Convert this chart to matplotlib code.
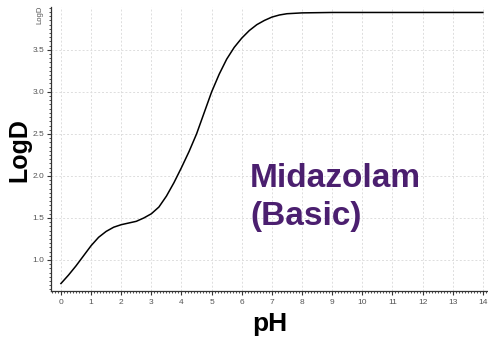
import matplotlib
matplotlib.use("Agg")
import matplotlib.pyplot as plt
from matplotlib.ticker import MultipleLocator

ph = [0.0, 0.25, 0.5, 0.75, 1.0, 1.25, 1.5, 1.75, 2.0, 2.25, 2.5, 2.75, 3.0, 3.25,
      3.5, 3.75, 4.0, 4.25, 4.5, 4.75, 5.0, 5.25, 5.5, 5.75, 6.0, 6.25, 6.5, 6.75,
      7.0, 7.25, 7.5, 8.0, 9.0, 10.0, 11.0, 12.0, 13.0, 14.0]
logd = [0.72, 0.82, 0.93, 1.05, 1.17, 1.27, 1.34, 1.39, 1.42, 1.44, 1.46, 1.50, 1.55, 1.63,
        1.76, 1.92, 2.10, 2.29, 2.50, 2.75, 3.00, 3.21, 3.39, 3.53, 3.64, 3.73, 3.80, 3.85,
        3.89, 3.915, 3.93, 3.94, 3.945, 3.945, 3.945, 3.945, 3.945, 3.945]
x_ticks = list(range(0, 15))
y_ticks = [1.0, 1.5, 2.0, 2.5, 3.0, 3.5]

plt.rcParams['font.family'] = ['Liberation Sans', 'DejaVu Sans']
fig = plt.figure(figsize=(4.89, 3.37), dpi=100)
ax = fig.add_axes([51/489, 46/337, 437/489, 284/337])
ax.plot(ph, logd, color='black', lw=1.1, solid_joinstyle='round')
ax.set_xlim(-0.33, 14.17)
ax.set_ylim(0.631, 4.01)
ax.set_xticks(x_ticks)
ax.set_yticks(y_ticks)
ax.set_yticklabels([f"{v:.1f}" for v in y_ticks])
ax.xaxis.set_minor_locator(MultipleLocator(0.1))
ax.yaxis.set_minor_locator(MultipleLocator(0.05))
ax.tick_params(axis='both', which='major', labelsize=6, labelcolor='#555555', color='#333333', length=3, width=0.8)
ax.tick_params(axis='both', which='minor', color='#333333', length=1.5, width=0.6)
ax.tick_params(axis='x', which='both', pad=3)
ax.tick_params(axis='y', which='both', pad=2)
for s in ['top', 'right']:
    ax.spines[s].set_visible(False)
for s in ['left', 'bottom']:
    ax.spines[s].set_color('#333333')
    ax.spines[s].set_linewidth(0.9)
ax.grid(True, which='major', color='#dddddd', linestyle=(0, (2, 2)), linewidth=0.7)
ax.set_axisbelow(True)
ax.set_xlabel('pH', fontsize=19, fontweight='bold', labelpad=4)
fig.text(19/489, 1 - 150/337, 'LogD', fontsize=18, fontweight='bold', rotation=90,
         ha='center', va='center')
fig.text(40/489, 1 - 15/337, 'LogD', fontsize=5.5, color='#555555', rotation=90,
         ha='center', va='center')
fig.text(250/489, 1 - 225/337, 'Midazolam\n(Basic)', fontsize=24, fontweight='bold',
         color='#4B1F6F', ha='left', va='baseline', linespacing=1.28)
fig.savefig('out.png', dpi=100)
